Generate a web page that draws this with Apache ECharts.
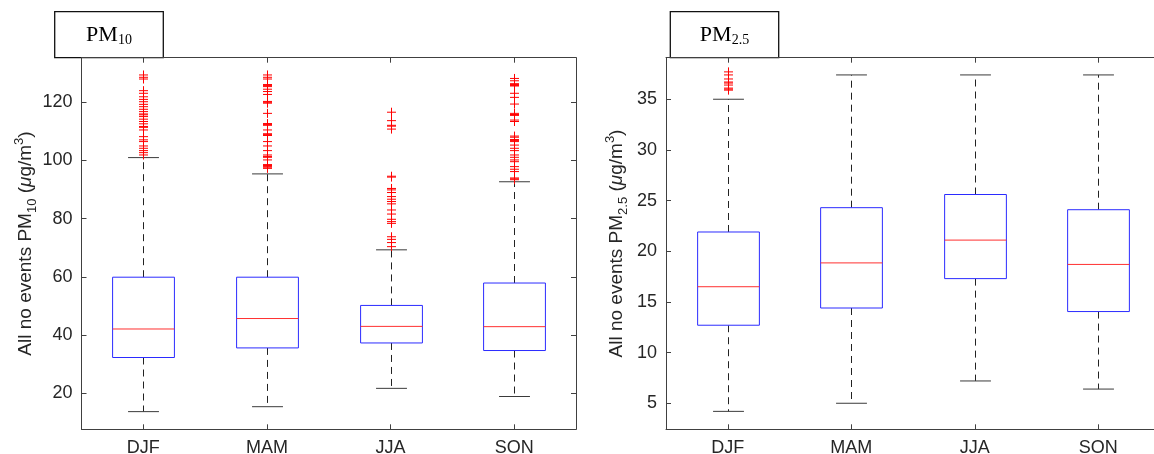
<!DOCTYPE html>
<html>
<head>
<meta charset="utf-8">
<script src="https://cdn.jsdelivr.net/npm/echarts@6/dist/echarts.min.js"></script>
<style>
html,body{margin:0;padding:0;background:#ffffff;}
#chart{width:1154px;height:454px;}
</style>
</head>
<body>
<div id="chart"></div>
<script>
// ---------- DATA ----------
const categories = ['DJF', 'MAM', 'JJA', 'SON'];

// PM10 box statistics (lower whisker, Q1, median, Q3, upper whisker)
const pm10Low    = [13.7, 15.4, 21.7, 18.9];
const pm10Q1     = [32.3, 35.6, 37.3, 34.7];
const pm10Median = [42.1, 45.7, 43.0, 42.9];
const pm10Q3     = [59.9, 59.9, 50.2, 57.9];
const pm10High   = [101.0, 95.4, 69.3, 92.7];

// PM10 outliers
const pm10OutDJF = [129.4,128.6,128.0,124.0,123.1,121.9,121.0,120.2,119.3,118.5,117.6,116.8,116.0,115.7,115.1,114.2,113.4,112.6,111.7,111.4,110.5,108.2,107.1,106.5,105.0,104.2,103.4,102.7,101.9];
const pm10OutMAM = [129.4,128.6,128.0,126.1,125.8,125.4,124.5,123.7,122.7,120.3,120.0,119.7,116.2,112.7,112.4,112.1,110.5,109.2,108.9,108.6,106.5,105.0,103.4,101.9,101.4,101.1,100.2,98.6,98.3,98.0,97.7,97.3];
const pm10OutJJA = [116.6,113.7,112.1,111.8,110.8,94.6,94.3,90.4,89.9,89.0,87.6,86.7,85.9,85.1,83.0,81.6,79.8,79.0,78.4,73.8,72.9,71.8,70.4];
const pm10OutSON = [128.2,127.4,126.4,126.1,125.8,125.6,123.1,121.7,119.4,116.2,115.8,115.5,113.9,113.4,108.4,108.0,107.2,106.9,106.5,105.3,104.2,103.4,101.9,101.1,100.2,99.6,97.9,97.0,96.2,94.0,93.7,93.4];

// PM2.5 box statistics
const pm25Low    = [4.2, 5.0, 7.2, 6.4];
const pm25Q1     = [12.7, 14.4, 17.3, 14.05];
const pm25Median = [16.5, 18.85, 21.1, 18.7];
const pm25Q3     = [21.9, 24.3, 25.6, 24.1];
const pm25High   = [35.0, 37.4, 37.4, 37.4];

// PM2.5 outliers
const pm25OutDJF = [37.7,37.4,37.0,36.7,36.6,36.4,36.1,36.0,35.9];
const pm25OutMAM = [];
const pm25OutJJA = [];
const pm25OutSON = [];

// tick labels
const pm10Ticks = [20, 40, 60, 80, 100, 120];
const pm25Ticks = [5, 10, 15, 20, 25, 30, 35];

// ---------- BUILD ----------
function boxData(lo, q1, md, q3, hi) {
  return categories.map((c, i) => [i, lo[i], q1[i], md[i], q3[i], hi[i]]);
}
function outData(lists) {
  const out = [];
  lists.forEach((arr, i) => arr.forEach(v => out.push([i, v])));
  return out;
}
const pm10Box = boxData(pm10Low, pm10Q1, pm10Median, pm10Q3, pm10High);
const pm25Box = boxData(pm25Low, pm25Q1, pm25Median, pm25Q3, pm25High);
const pm10Out = outData([pm10OutDJF, pm10OutMAM, pm10OutJJA, pm10OutSON]);
const pm25Out = outData([pm25OutDJF, pm25OutMAM, pm25OutJJA, pm25OutSON]);

function boxRender(params, api) {
  const x = api.value(0);
  const lo = api.coord([x, api.value(1)]);
  const q1 = api.coord([x, api.value(2)]);
  const md = api.coord([x, api.value(3)]);
  const q3 = api.coord([x, api.value(4)]);
  const hi = api.coord([x, api.value(5)]);
  const band = api.size([1, 0])[0];
  const bw = band * 0.5, cw = band * 0.25;
  const cx = Math.round(lo[0]) + 0.5;
  const whisk = { stroke: '#222222', lineWidth: 1, lineDash: [7, 5] };
  const cap = { stroke: '#3a3a3a', lineWidth: 1 };
  return {
    type: 'group',
    children: [
      { type: 'line', shape: { x1: cx, y1: q3[1], x2: cx, y2: hi[1] }, style: whisk },
      { type: 'line', shape: { x1: cx, y1: q1[1], x2: cx, y2: lo[1] }, style: whisk },
      { type: 'line', shape: { x1: cx - cw / 2, y1: hi[1], x2: cx + cw / 2, y2: hi[1] }, style: cap },
      { type: 'line', shape: { x1: cx - cw / 2, y1: lo[1], x2: cx + cw / 2, y2: lo[1] }, style: cap },
      { type: 'rect', shape: { x: cx - bw / 2, y: q3[1], width: bw, height: q1[1] - q3[1] },
        style: { fill: '#ffffff', stroke: '#2b2bff', lineWidth: 1 } },
      { type: 'line', shape: { x1: cx - bw / 2, y1: md[1], x2: cx + bw / 2, y2: md[1] },
        style: { stroke: '#ff3030', lineWidth: 1 } }
    ]
  };
}
function plusRender(params, api) {
  const p = api.coord([api.value(0), api.value(1)]);
  const s = 4.5;
  const cx = Math.round(p[0]) + 0.5;
  const st = { stroke: '#ff0000', lineWidth: 1 };
  return {
    type: 'group',
    children: [
      { type: 'line', shape: { x1: cx - s, y1: p[1], x2: cx + s, y2: p[1] }, style: st },
      { type: 'line', shape: { x1: cx, y1: p[1] - s, x2: cx, y2: p[1] + s }, style: st }
    ]
  };
}

const axisColor = '#404040';
const tickFont = "'Liberation Sans Narrow', 'Arial Narrow', 'Liberation Sans', Arial, sans-serif";
const nameFont = "'Liberation Sans', Arial, sans-serif";

function xAxes(gi) {
  return [
    { gridIndex: gi, type: 'category', data: categories, position: 'bottom',
      axisLine: { show: true, lineStyle: { color: axisColor, width: 1 } },
      axisTick: { show: true, inside: true, alignWithLabel: true, length: 5, lineStyle: { color: axisColor } },
      axisLabel: { show: true, color: '#262626', fontSize: 18, fontFamily: tickFont, margin: 10 },
      splitLine: { show: false } },
    { gridIndex: gi, type: 'category', data: categories, position: 'top',
      axisLine: { show: true, lineStyle: { color: axisColor, width: 1 } },
      axisTick: { show: true, inside: true, alignWithLabel: true, length: 5, lineStyle: { color: axisColor } },
      axisLabel: { show: false },
      splitLine: { show: false } }
  ];
}
function nameRich() {
  return {
    n:   { fontSize: 19, fontFamily: nameFont, color: '#262626', lineHeight: 26, height: 26, verticalAlign: 'middle' },
    it:  { fontSize: 19, fontFamily: nameFont, color: '#262626', fontStyle: 'italic', lineHeight: 26, height: 26, verticalAlign: 'middle' },
    sub: { fontSize: 13, fontFamily: nameFont, color: '#262626', lineHeight: 13, height: 13, verticalAlign: 'bottom' },
    sup: { fontSize: 13, fontFamily: nameFont, color: '#262626', lineHeight: 13, height: 13, verticalAlign: 'top' }
  };
}
function yAxes(gi, min, max, ticks, name, gap) {
  return [
    { gridIndex: gi, type: 'value', position: 'left', min: min, max: max,
      axisLine: { show: true, lineStyle: { color: axisColor, width: 1 } },
      axisTick: { show: true, inside: true, length: 5, customValues: ticks, lineStyle: { color: axisColor } },
      axisLabel: { show: true, customValues: ticks, color: '#262626', fontSize: 18, fontFamily: tickFont, margin: 9 },
      splitLine: { show: false },
      name: name, nameLocation: 'middle', nameRotate: 90, nameGap: gap,
      nameTextStyle: { rich: nameRich(), fontSize: 19, color: '#262626' } },
    { gridIndex: gi, type: 'value', position: 'right', min: min, max: max,
      axisLine: { show: true, lineStyle: { color: axisColor, width: 1 } },
      axisTick: { show: true, inside: true, length: 5, customValues: ticks, lineStyle: { color: axisColor } },
      axisLabel: { show: false },
      splitLine: { show: false } }
  ];
}

function titleBox(x, y, w, h, sub) {
  return {
    type: 'group', z: 100,
    children: [
      { type: 'rect', shape: { x: x, y: y, width: w, height: h },
        style: { fill: '#ffffff', stroke: '#111111', lineWidth: 1.3 } },
      { type: 'text', x: x + w / 2, y: y + h / 2 + 1,
        style: { text: '{a|PM}{b|' + sub + '}', align: 'center', verticalAlign: 'middle',
          rich: {
            a: { fontSize: 22, fontFamily: "'Liberation Serif', 'Times New Roman', serif", fill: '#000', lineHeight: 28, height: 28, verticalAlign: 'middle' },
            b: { fontSize: 14, fontFamily: "'Liberation Serif', 'Times New Roman', serif", fill: '#000', lineHeight: 19, height: 19, verticalAlign: 'bottom' }
          } } }
    ]
  };
}

const chart = echarts.init(document.getElementById('chart'), null, { renderer: 'canvas' });
chart.setOption({
  backgroundColor: '#ffffff',
  animation: false,
  grid: [
    { left: 81.5, top: 57.7, width: 494.5, height: 371.6, containLabel: false, outerBoundsMode: 'none' },
    { left: 666, top: 57.7, width: 494, height: 371.6, containLabel: false, outerBoundsMode: 'none' }
  ],
  xAxis: [].concat(xAxes(0), xAxes(1)),
  yAxis: [].concat(
    yAxes(0, 7.63, 135.33, pm10Ticks, '{n|All no events PM}{sub|10}{n| (}{it|μ}{n|g/m}{sup|3}{n|)}', 42),
    yAxes(1, 2.43, 39.1, pm25Ticks, '{n|All no events PM}{sub|2.5}{n| (}{it|μ}{n|g/m}{sup|3}{n|)}', 36)
  ),
  series: [
    { type: 'custom', xAxisIndex: 0, yAxisIndex: 0, renderItem: boxRender, data: pm10Box, encode: { x: 0, y: [1, 2, 3, 4, 5] }, z: 2 },
    { type: 'custom', xAxisIndex: 0, yAxisIndex: 0, renderItem: plusRender, data: pm10Out, encode: { x: 0, y: 1 }, z: 3 },
    { type: 'custom', xAxisIndex: 2, yAxisIndex: 2, renderItem: boxRender, data: pm25Box, encode: { x: 0, y: [1, 2, 3, 4, 5] }, z: 2 },
    { type: 'custom', xAxisIndex: 2, yAxisIndex: 2, renderItem: plusRender, data: pm25Out, encode: { x: 0, y: 1 }, z: 3 }
  ],
  graphic: [
    titleBox(54.7, 11.7, 108.6, 46, '10'),
    titleBox(670.3, 11.7, 108.4, 46, '2.5')
  ]
});
</script>
</body>
</html>
